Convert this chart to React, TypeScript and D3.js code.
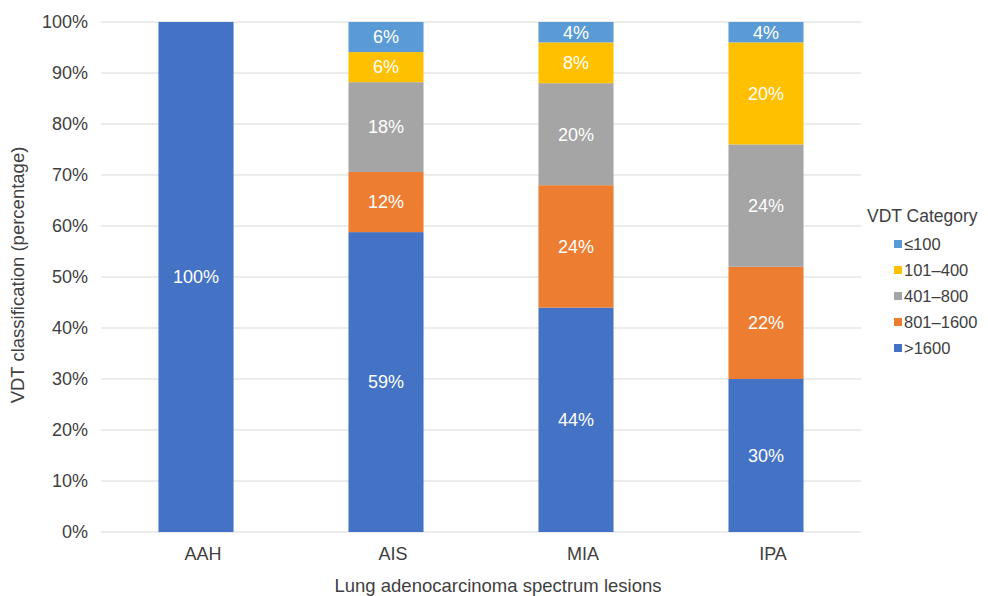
import React from "react";
import * as d3 from "d3";

const categories = ["AAH", "AIS", "MIA", "IPA"];
const seriesNames = [">1600", "801–1600", "401–800", "101–400", "≤100"];
const gt1600 = [100, 58.8, 44, 30];
const s801_1600 = [0, 11.8, 24, 22];
const s401_800 = [0, 17.6, 20, 24];
const s101_400 = [0, 5.9, 8, 20];
const le100 = [0, 5.9, 4, 4];
const yTicks = [0, 10, 20, 30, 40, 50, 60, 70, 80, 90, 100];
const colors = ["#4472C4", "#ED7D31", "#A5A5A5", "#FFC000", "#5B9BD5"];
const legendOrder = [4, 3, 2, 1, 0];

const W = 988, H = 596;
const left = 101, right = 861, top = 22, bottom = 532;
const font = "'Liberation Sans', Arial, Helvetica, sans-serif";

export default function App() {
  const rows = categories.map((c, i) => ({
    cat: c,
    s0: gt1600[i], s1: s801_1600[i], s2: s401_800[i], s3: s101_400[i], s4: le100[i],
  }));
  const keys = ["s0", "s1", "s2", "s3", "s4"];
  const stack = d3.stack<any>().keys(keys)(rows);
  const x = d3.scaleBand().domain(categories).range([left, right]).paddingInner(0.605).paddingOuter(0.3025);
  const y = d3.scaleLinear().domain([0, 100]).range([bottom, top]);

  return (
    <svg width={W} height={H} style={{ position: "absolute", left: 0, top: 0, background: "#fff" }} fontFamily={font}>
      {yTicks.map((t) => (
        <g key={t}>
          <line x1={left} x2={right} y1={y(t)} y2={y(t)} stroke="#d9d9d9" strokeWidth={1} />
          <text x={88} y={y(t)} dy="0.35em" textAnchor="end" fontSize={18} fill="#404040">{t}%</text>
        </g>
      ))}
      {stack.map((layer, si) =>
        layer.map((d, i) => {
          const v = d[1] - d[0];
          if (v <= 0) return null;
          const bx = x(categories[i])!;
          const y0 = y(d[0]), y1 = y(d[1]);
          return (
            <g key={si + "-" + i}>
              <rect x={bx} y={y1} width={x.bandwidth()} height={y0 - y1} fill={colors[si]} />
              <text x={bx + x.bandwidth() / 2} y={(y0 + y1) / 2} dy="0.35em" textAnchor="middle" fontSize={18} fill="#fff">
                {Math.round(v)}%
              </text>
            </g>
          );
        })
      )}
      {categories.map((c) => (
        <text key={c} x={x(c)! + x.bandwidth() / 2 + 7} y={560} textAnchor="middle" fontSize={18} fill="#404040">{c}</text>
      ))}
      <text x={498} y={592} textAnchor="middle" fontSize={18.5} fill="#404040">Lung adenocarcinoma spectrum lesions</text>
      <text transform={`translate(24, 275) rotate(-90)`} textAnchor="middle" fontSize={18.5} fill="#404040">VDT classification (percentage)</text>
      <text x={867} y={222} fontSize={17.5} fill="#404040">VDT Category</text>
      {legendOrder.map((si, k) => (
        <g key={si} transform={`translate(894, ${244 + k * 26})`}>
          <rect x={0} y={-4} width={8} height={8} fill={colors[si]} />
          <text x={10} y={0} dy="0.35em" fontSize={16.5} fill="#404040">{seriesNames[si]}</text>
        </g>
      ))}
    </svg>
  );
}
